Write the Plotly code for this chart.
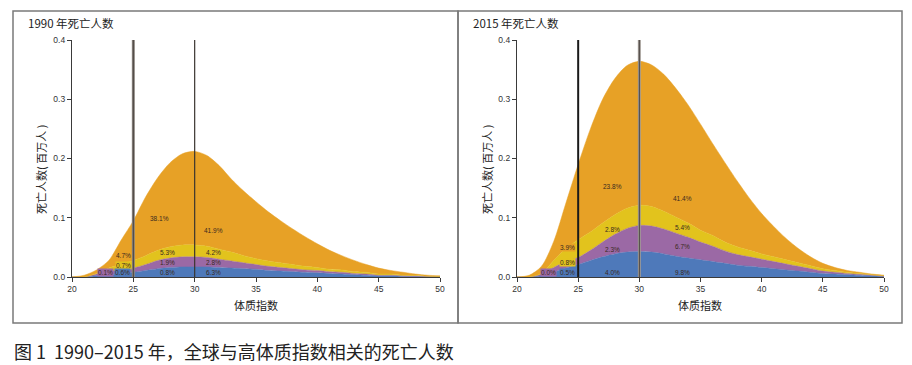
import plotly.graph_objects as go

W, H = 912, 365
OFF = 8                      # page body margin of the browser
FW, FH = W - OFF, H - OFF    # figure size that fits the window

bmi = list(range(20, 51))

# 1990 (millions of deaths), stacked bottom -> top
blue_1990 = [0, 0, 0.002, 0.004, 0.006, 0.008, 0.011, 0.014, 0.016, 0.017, 0.017, 0.017, 0.016, 0.015, 0.014, 0.013,
             0.011, 0.010, 0.009, 0.008, 0.007, 0.006, 0.005, 0.004, 0.003, 0.002, 0.002, 0.001, 0.001, 0.0005, 0.0003]
purple_1990 = [0, 0, 0.003, 0.005, 0.006, 0.007, 0.010, 0.014, 0.016, 0.017, 0.017, 0.016, 0.014, 0.012, 0.010, 0.008,
               0.007, 0.006, 0.005, 0.004, 0.004, 0.003, 0.003, 0.002, 0.002, 0.001, 0.001, 0.001, 0.0005, 0.0003, 0.0002]
yellow_1990 = [0, 0, 0.001, 0.006, 0.010, 0.013, 0.015, 0.017, 0.019, 0.020, 0.020, 0.019, 0.017, 0.015, 0.012, 0.010,
               0.009, 0.008, 0.007, 0.006, 0.005, 0.004, 0.004, 0.003, 0.003, 0.002, 0.002, 0.001, 0.001, 0.0005, 0.0003]
orange_1990 = [0, 0.003, 0.006, 0.013, 0.040, 0.067, 0.099, 0.123, 0.142, 0.154, 0.158, 0.153, 0.141, 0.123, 0.109, 0.096,
               0.083, 0.071, 0.060, 0.050, 0.040, 0.032, 0.024, 0.019, 0.013, 0.010, 0.006, 0.005, 0.0025, 0.0017, 0.0012]

# 2015
blue_2015 = [0, 0, 0.002, 0.008, 0.015, 0.021, 0.028, 0.034, 0.039, 0.042, 0.043, 0.042, 0.039, 0.035, 0.032, 0.029,
             0.026, 0.023, 0.020, 0.018, 0.016, 0.014, 0.012, 0.010, 0.008, 0.006, 0.005, 0.004, 0.003, 0.002, 0.001]
purple_2015 = [0, 0, 0.003, 0.008, 0.011, 0.012, 0.017, 0.025, 0.033, 0.040, 0.044, 0.044, 0.042, 0.039, 0.035, 0.030,
               0.026, 0.021, 0.018, 0.016, 0.014, 0.012, 0.010, 0.008, 0.006, 0.004, 0.003, 0.002, 0.0015, 0.001, 0.0005]
yellow_2015 = [0, 0, 0.001, 0.012, 0.022, 0.030, 0.031, 0.032, 0.033, 0.034, 0.034, 0.033, 0.030, 0.027, 0.024, 0.020,
               0.018, 0.015, 0.013, 0.011, 0.009, 0.008, 0.007, 0.006, 0.005, 0.004, 0.003, 0.002, 0.0015, 0.001, 0.0005]
orange_2015 = [0, 0.003, 0.012, 0.032, 0.077, 0.127, 0.174, 0.209, 0.230, 0.241, 0.243, 0.239, 0.231, 0.217, 0.199, 0.179,
               0.155, 0.134, 0.111, 0.088, 0.068, 0.051, 0.036, 0.024, 0.015, 0.009, 0.005, 0.003, 0.002, 0.001, 0.001]

x_ticks = [20, 25, 30, 35, 40, 45, 50]
y_ticks = [0.0, 0.1, 0.2, 0.3, 0.4]

# percentage labels: (bmi, value, text, bg)
labels_1990 = [(27.1, 0.098, "38.1%", None), (31.5, 0.079, "41.9%", None),
               (27.8, 0.041, "5.3%", None), (31.5, 0.041, "4.2%", None),
               (27.8, 0.024, "1.9%", None), (31.5, 0.024, "2.8%", None),
               (27.8, 0.007, "0.8%", None), (31.5, 0.007, "6.3%", None),
               (24.2, 0.037, "4.7%", "orange"), (24.2, 0.020, "0.7%", "yellow"),
               (22.7, 0.007, "0.1%", "purple"), (24.1, 0.007, "0.6%", "blue")]
labels_2015 = [(27.8, 0.152, "23.8%", None), (33.5, 0.133, "41.4%", None),
               (27.8, 0.081, "2.8%", None), (33.5, 0.084, "5.4%", None),
               (27.8, 0.046, "2.3%", None), (33.5, 0.052, "6.7%", None),
               (27.8, 0.007, "4.0%", None), (33.5, 0.007, "9.8%", None),
               (24.1, 0.049, "3.9%", "orange"), (24.1, 0.025, "0.8%", "yellow"),
               (22.6, 0.007, "0.0%", "purple"), (24.1, 0.007, "0.5%", "blue")]

COL = {"blue": "#4e79ba", "purple": "#9b69a5", "yellow": "#e2c31d", "orange": "#e7a126"}
CJK = "Noto Sans CJK SC"
LAT = "Liberation Sans, Arial"

fig = go.Figure()

def add_panel(series, xa, ya, grp):
    for name, vals in series:
        fig.add_trace(go.Scatter(
            x=bmi, y=vals, xaxis=xa, yaxis=ya, stackgroup=grp, mode="lines",
            line=dict(color=COL[name], width=0.5, shape="spline", smoothing=0.8),
            fillcolor=COL[name], showlegend=False, hoverinfo="skip"))

add_panel([("blue", blue_1990), ("purple", purple_1990), ("yellow", yellow_1990), ("orange", orange_1990)], "x", "y", "a")
add_panel([("blue", blue_2015), ("purple", purple_2015), ("yellow", yellow_2015), ("orange", orange_2015)], "x2", "y2", "b")

def px_x(p):
    return (p - OFF) / FW

def px_y(p):
    return 1 - (p - OFF) / FH

ax_common = dict(showgrid=False, zeroline=False, showline=True, linecolor="#3a3a3a", linewidth=1.2,
                 ticks="outside", ticklen=4, tickwidth=1, tickcolor="#3a3a3a", automargin=False,
                 tickfont=dict(family=LAT, size=8.5, color="#333"))

fig.update_layout(
    width=FW, height=FH, margin=dict(l=0, r=0, t=0, b=0, pad=0, autoexpand=False),
    paper_bgcolor="white", plot_bgcolor="white",
    xaxis=dict(domain=[px_x(72), px_x(440)], range=[20, 50], tickvals=x_ticks, anchor="y", **ax_common),
    yaxis=dict(domain=[px_y(277), px_y(40)], range=[0, 0.4], tickvals=y_ticks, tickformat=".1f", anchor="x", **ax_common),
    xaxis2=dict(domain=[px_x(517), px_x(884)], range=[20, 50], tickvals=x_ticks, anchor="y2", **ax_common),
    yaxis2=dict(domain=[px_y(277), px_y(40)], range=[0, 0.4], tickvals=y_ticks, tickformat=".1f", anchor="x2", **ax_common),
)

shapes = []
# panel frames
shapes.append(dict(type="rect", xref="paper", yref="paper", x0=px_x(13), x1=px_x(458), y0=px_y(323), y1=px_y(11),
                   line=dict(color="#7a7a7a", width=1.5)))
shapes.append(dict(type="rect", xref="paper", yref="paper", x0=px_x(458), x1=px_x(902), y0=px_y(323), y1=px_y(11),
                   line=dict(color="#7a7a7a", width=1.5)))
# reference lines at BMI 25 and 30
def vline(xa, ya, xv, color, width):
    shapes.append(dict(type="line", xref=xa, yref=ya, x0=xv, x1=xv, y0=-0.012, y1=0.4,
                       line=dict(color=color, width=width), layer="above"))

vline("x", "y", 25, "#8a847e", 3)
vline("x", "y", 25, "#4a4440", 1)
vline("x", "y", 30, "#3a3530", 1.2)
vline("x2", "y2", 25, "#1a1a1a", 2)
vline("x2", "y2", 30, "#a09a94", 3)
vline("x2", "y2", 30, "#4a4440", 1)
fig.update_layout(shapes=shapes)

ann = []
def add_labels(labels, xa, ya):
    for bx, by, txt, bg in labels:
        d = dict(x=bx, y=by, xref=xa, yref=ya, text=txt, showarrow=False,
                 font=dict(family=LAT, size=6.5, color="#3a2a20"))
        if bg:
            d["bgcolor"] = COL[bg]
            d["borderpad"] = 0
        ann.append(d)

add_labels(labels_1990, "x", "y")
add_labels(labels_2015, "x2", "y2")

# panel titles
ann.append(dict(x=px_x(26), y=px_y(23), xref="paper", yref="paper", xanchor="left", yanchor="middle",
                text="1990 年死亡人数", showarrow=False, font=dict(family=CJK, size=11.5, color="#222")))
ann.append(dict(x=px_x(471), y=px_y(23), xref="paper", yref="paper", xanchor="left", yanchor="middle",
                text="2015 年死亡人数", showarrow=False, font=dict(family=CJK, size=11.5, color="#222")))
# axis titles
for xc in (41, 487):
    ann.append(dict(x=px_x(xc), y=px_y(170), xref="paper", yref="paper", xanchor="center", yanchor="middle",
                    text="死亡人数( 百万人 )", textangle=-90, showarrow=False,
                    font=dict(family=CJK, size=11, color="#222")))
for xc in (256, 700):
    ann.append(dict(x=px_x(xc), y=px_y(305), xref="paper", yref="paper", xanchor="center", yanchor="middle",
                    text="体质指数", showarrow=False, font=dict(family=CJK, size=11, color="#222")))
# caption
ann.append(dict(x=px_x(12), y=px_y(351), xref="paper", yref="paper", xanchor="left", yanchor="middle",
                text="图 1  1990–2015 年，全球与高体质指数相关的死亡人数", showarrow=False,
                font=dict(family=CJK, size=18, color="#222")))

fig.update_layout(annotations=ann)

fig.write_html("out.html")
